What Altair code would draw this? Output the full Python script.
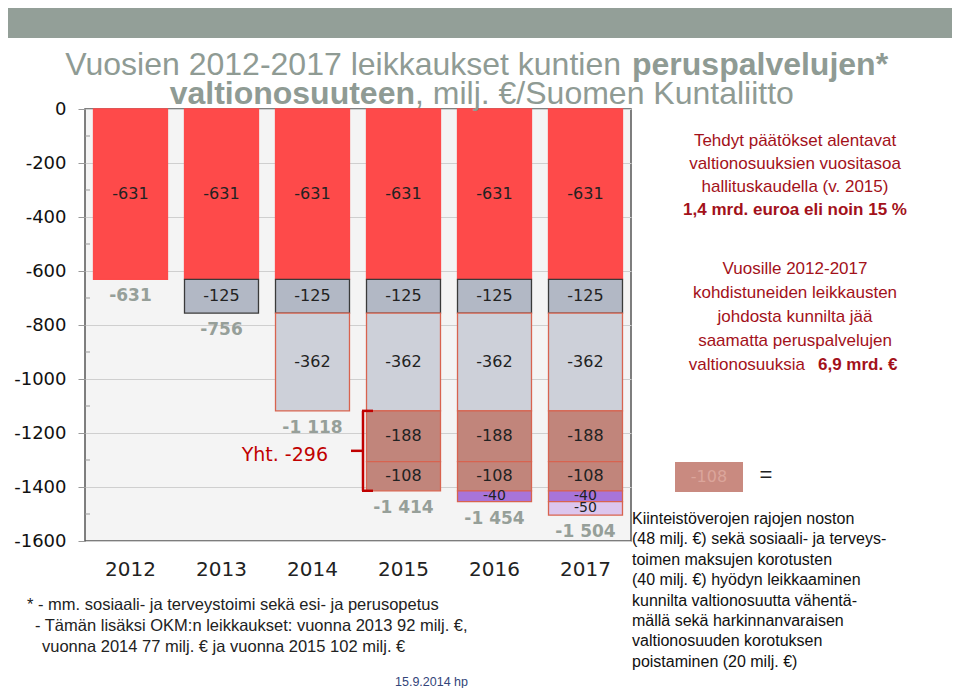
import altair as alt
import pandas as pd

# ---------------- data ----------------
years = ["2012", "2013", "2014", "2015", "2016", "2017"]
components = ["c631", "c125", "c362", "c188", "c108", "c40", "c50"]
cut_631 = [-631, -631, -631, -631, -631, -631]
cut_125 = [None, -125, -125, -125, -125, -125]
cut_362 = [None, None, -362, -362, -362, -362]
cut_188 = [None, None, None, -188, -188, -188]
cut_108 = [None, None, None, -108, -108, -108]
cut_40 = [None, None, None, None, -40, -40]
cut_50 = [None, None, None, None, None, -50]
y_tick_values = [0, -200, -400, -600, -800, -1000, -1200, -1400, -1600]
minor_tick_values = [-100, -300, -500, -700, -900, -1100, -1300, -1500]

series = [cut_631, cut_125, cut_362, cut_188, cut_108, cut_40, cut_50]

rows = []
totals = []
for i, yr in enumerate(years):
    start = 0
    for comp, vals in zip(components, series):
        v = vals[i]
        if v is None:
            continue
        end = start + v
        rows.append({"year": yr, "comp": comp, "start": start, "end": end,
                     "mid": (start + end) / 2, "label": str(v), "size": abs(v)})
        start = end
    totals.append(start)
seg_df = pd.DataFrame(rows)
tot_df = pd.DataFrame({
    "year": years,
    "total": totals,
    "label": [f"{t:,}".replace(",", " ") for t in totals],
})

# bracket for 2015 additions
br_top = totals[2]
br_bottom = totals[3]
extra_sum = cut_188[3] + cut_108[3]
br_df = pd.DataFrame({"top": [br_top], "bottom": [br_bottom],
                      "mid": [(br_top + br_bottom) / 2],
                      "txt": ["Yht. " + str(extra_sum)]})
minor_df = pd.DataFrame({"v": minor_tick_values})

# ---------------- styling ----------------
fill_range = ["#fe4a4a", "#b2b8c5", "#cdd0d9", "#c1857b", "#c1857b", "#a874d9", "#dcc6ee"]
stroke_range = ["#fe4a4a", "#3a3a3a", "#d8634f", "#d8634f", "#d8634f", "#d8634f", "#d8634f"]
TXT = "Liberation Sans"
NUM = "DejaVu Sans"
RED = "#a3111a"
TITLE = "#8f9b94"

yscale = alt.Scale(domain=[-1600, 0], nice=False, zero=False)
yaxis = alt.Axis(values=y_tick_values, labelExpr="'' + datum.value", title=None)
xscale = alt.Scale(domain=years, paddingInner=0.187, paddingOuter=0.0935)
xaxis = alt.Axis(title=None, labelAngle=0)


def X(f):
    return alt.X(f, type="nominal", scale=xscale, axis=xaxis)


def Y(f):
    return alt.Y(f, type="quantitative", scale=yscale, axis=yaxis)


one = alt.Data(values=[{"k": 0}])


def note(lines, x, y, **kw):
    return alt.Chart(one).mark_text(**kw).encode(
        x=alt.value(x), y=alt.value(y), text=alt.value(lines))


bars = alt.Chart(seg_df).mark_bar(strokeWidth=1.3).encode(
    x=X("year"), y=Y("start"), y2="end",
    color=alt.Color("comp:N", scale=alt.Scale(domain=components, range=fill_range), legend=None),
    stroke=alt.Stroke("comp:N", scale=alt.Scale(domain=components, range=stroke_range), legend=None),
)

seg_big = alt.Chart(seg_df).transform_filter("datum.size >= 100").mark_text(
    font=NUM, fontSize=16, color="#222", baseline="middle").encode(
    x=X("year"), y=Y("mid"), text="label:N")
seg_small = alt.Chart(seg_df).transform_filter("datum.size < 100").mark_text(
    font=NUM, fontSize=14, color="#222", baseline="middle").encode(
    x=X("year"), y=Y("mid"), text="label:N")

tot_text = alt.Chart(tot_df).mark_text(
    font=NUM, fontSize=17, fontWeight="bold", color="#969f99", baseline="middle", dy=17).encode(
    x=X("year"), y=Y("total"), text="label:N")

minor = alt.Chart(minor_df).mark_rule(color="#999", strokeWidth=1).encode(
    y=Y("v"), x=alt.value(0), x2=alt.value(5))

BR = "#c00000"
br_v = alt.Chart(br_df).mark_rule(color=BR, strokeWidth=2.5).encode(
    x=alt.value(278), y=Y("top"), y2="bottom")
br_t = alt.Chart(br_df).mark_rule(color=BR, strokeWidth=2.5).encode(
    x=alt.value(277), x2=alt.value(288), y=Y("top"))
br_b = alt.Chart(br_df).mark_rule(color=BR, strokeWidth=2.5).encode(
    x=alt.value(277), x2=alt.value(288), y=Y("bottom"))
br_m = alt.Chart(br_df).mark_rule(color=BR, strokeWidth=2.5).encode(
    x=alt.value(266), x2=alt.value(278), y=Y("mid"))
br_txt = alt.Chart(br_df).mark_text(font=NUM, fontSize=19, color=BR, align="right",
                                    baseline="middle", dy=4).encode(
    x=alt.value(243), y=Y("mid"), text="txt:N")

header = alt.Chart(one).mark_rect(color="#939f98").encode(
    x=alt.value(-77), x2=alt.value(867), y=alt.value(-101), y2=alt.value(-71))

TFS = 32
title1a = note("Vuosien 2012-2017 leikkaukset kuntien", 536, -34, font=TXT, fontSize=TFS,
               color=TITLE, align="right", baseline="alphabetic")
title1b = note("peruspalvelujen*", 547, -34, font=TXT, fontSize=TFS, fontWeight="bold",
               color=TITLE, align="left", baseline="alphabetic")
title2a = note("valtionosuuteen", 330, -5, font=TXT, fontSize=TFS, fontWeight="bold",
               color=TITLE, align="right", baseline="alphabetic")
title2b = note(", milj. €/Suomen Kuntaliitto", 330, -5, font=TXT, fontSize=TFS,
               color=TITLE, align="left", baseline="alphabetic")

blk1 = note(["Tehdyt päätökset alentavat", "valtionosuuksien vuositasoa",
             "hallituskaudella (v. 2015)"], 710, 32, font=TXT, fontSize=17, color=RED,
            align="center", baseline="middle", lineHeight=23)
blk1b = note("1,4 mrd. euroa eli noin 15 %", 710, 101, font=TXT, fontSize=17, color=RED,
             fontWeight="bold", align="center", baseline="middle")
blk2 = note(["Vuosille 2012-2017", "kohdistuneiden leikkausten", "johdosta kunnilta jää",
             "saamatta peruspalvelujen"], 710, 160, font=TXT, fontSize=17, color=RED,
            align="center", baseline="middle", lineHeight=24)
blk2a = note("valtionosuuksia", 720, 256, font=TXT, fontSize=17, color=RED,
             align="right", baseline="middle")
blk2b = note("6,9 mrd. €", 733, 256, font=TXT, fontSize=17, color=RED, fontWeight="bold",
             align="left", baseline="middle")

leg_box = alt.Chart(one).mark_rect(color="#c98a80").encode(
    x=alt.value(590), x2=alt.value(658), y=alt.value(353), y2=alt.value(383))
leg_txt = note("-108", 624, 368, font=NUM, fontSize=16, color="#dba59b",
               align="center", baseline="middle")
leg_eq = note("=", 681, 366, font=TXT, fontSize=22, color="#222",
              align="center", baseline="middle")

blk3 = note(["Kiinteistöverojen rajojen noston",
             "(48 milj. €) sekä sosiaali- ja terveys-",
             "toimen maksujen korotusten",
             "(40 milj. €) hyödyn leikkaaminen",
             "kunnilta valtionosuutta vähentä-",
             "mällä sekä harkinnanvaraisen",
             "valtionosuuden korotuksen",
             "poistaminen (20 milj. €)"], 547, 410, font=TXT, fontSize=16, color="#111",
            align="left", baseline="middle", lineHeight=20.4)

foot1 = note("* - mm. sosiaali- ja terveystoimi sekä esi- ja perusopetus", -58, 496,
             font=TXT, fontSize=16.5, color="#222", align="left", baseline="middle")
foot2 = note("- Tämän lisäksi OKM:n leikkaukset: vuonna 2013 92 milj. €,", -50, 517,
             font=TXT, fontSize=16.5, color="#222", align="left", baseline="middle")
foot3 = note("vuonna 2014 77 milj. € ja vuonna 2015 102 milj. €", -43, 538,
             font=TXT, fontSize=16.5, color="#222", align="left", baseline="middle")
date = note("15.9.2014 hp", 310, 573, font=TXT, fontSize=12.5, color="#33457a",
            align="left", baseline="middle")

chart = alt.layer(
    header, minor, bars, seg_big, seg_small, tot_text,
    br_v, br_t, br_b, br_m, br_txt,
    title1a, title1b, title2a, title2b,
    blk1, blk1b, blk2, blk2a, blk2b,
    leg_box, leg_txt, leg_eq, blk3,
    foot1, foot2, foot3, date,
).properties(
    width=546, height=432,
    autosize=alt.AutoSizeParams(type="none"),
    padding={"left": 77, "top": 101, "right": 321, "bottom": 147},
    background="white",
).configure_view(
    fill="#f4f4f4", stroke="#555", strokeWidth=1.5
).configure_axisY(
    domain=False, tickSize=7, tickColor="#999", labelPadding=12,
    labelFont=NUM, labelFontSize=18, labelColor="#111",
    grid=True, gridColor="#cfcfcf", gridWidth=1,
).configure_axisX(
    domain=False, ticks=False, tickSize=0, labelPadding=18,
    labelFont=NUM, labelFontSize=20, labelColor="#222", grid=False,
)

chart.save("out.html", embed_options={"renderer": "svg", "actions": False})
